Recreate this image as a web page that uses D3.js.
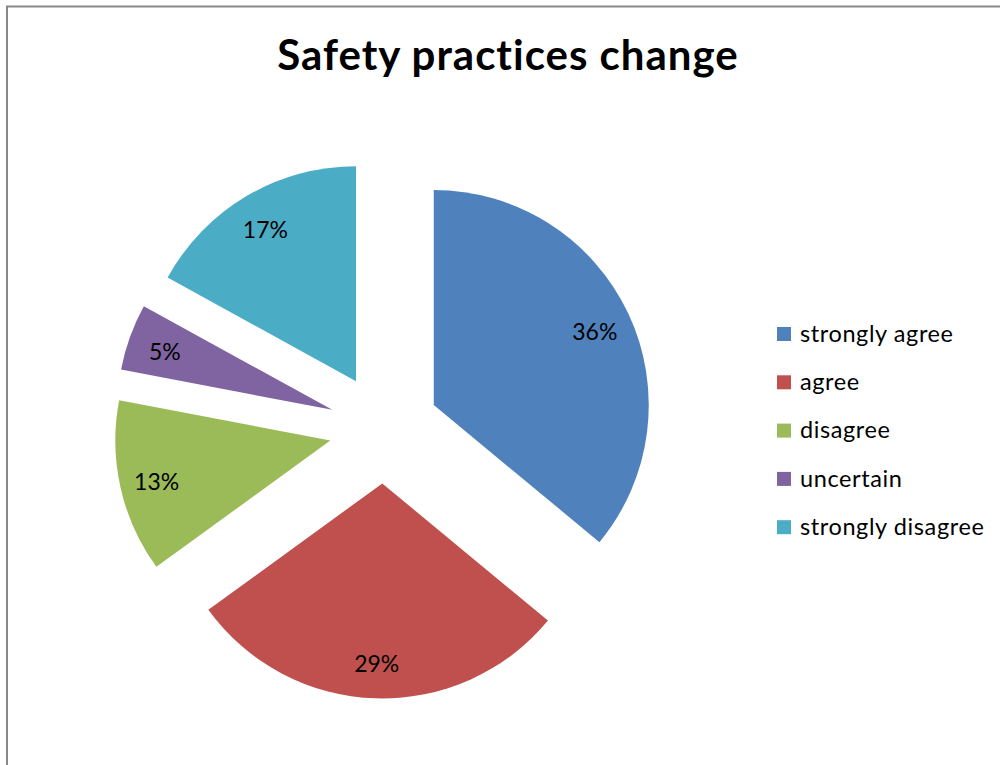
<!DOCTYPE html>
<html><head><meta charset="utf-8">
<script src="https://cdn.jsdelivr.net/npm/d3@7"></script>
<style>body{margin:0;background:#fff;} svg{display:block;}</style>
</head><body>
<svg id="c" width="1000" height="765"></svg>
<script>
const categories = ["strongly agree","agree","disagree","uncertain","strongly disagree"];
const values = [36, 29, 13, 5, 17];
const colors = ["#4F81BD","#C0504D","#9BBB59","#8064A2","#4BACC6"];
const title = "Safety practices change";

const svg = d3.select("#c");
const font = "Lato, 'Open Sans', sans-serif";

svg.append("rect").attr("x",7).attr("y",6.5).attr("width",1000).attr("height",800)
  .attr("fill","#fff").attr("stroke","#888").attr("stroke-width",2);

svg.append("text").attr("x",508).attr("y",70).attr("text-anchor","middle")
  .attr("font-family",font).attr("font-weight",700).attr("font-size",42)
  .attr("letter-spacing",1).text(title);

const cx = 384, cy = 428.5, R = 215, explode = 55, labelR = 178;
const pie = d3.pie().sort(null).value(d=>d)(values);
const arc = d3.arc().innerRadius(0).outerRadius(R);
const g = svg.append("g").attr("transform",`translate(${cx},${cy})`);

pie.forEach((p,i)=>{
  const mid = (p.startAngle+p.endAngle)/2;
  const ox = Math.sin(mid)*explode, oy = -Math.cos(mid)*explode;
  const sg = g.append("g").attr("transform",`translate(${ox},${oy})`);
  sg.append("path").attr("d",arc(p)).attr("fill",colors[i]);
  sg.append("text").attr("x",Math.sin(mid)*labelR).attr("y",-Math.cos(mid)*labelR+2)
    .attr("dy","0.36em").attr("text-anchor","middle")
    .attr("font-family",font).attr("font-size",23).attr("fill","#000")
    .text(values[i]+"%");
});

const leg = svg.append("g");
categories.forEach((c,i)=>{
  const y = 334 + i*48.3;
  leg.append("rect").attr("x",777).attr("y",y-7).attr("width",14).attr("height",14).attr("fill",colors[i]);
  leg.append("text").attr("x",800).attr("y",y).attr("dy","0.33em")
    .attr("font-family",font).attr("font-size",23.5).attr("letter-spacing",0.6)
    .attr("fill","#000").text(c);
});
</script>
</body></html>
